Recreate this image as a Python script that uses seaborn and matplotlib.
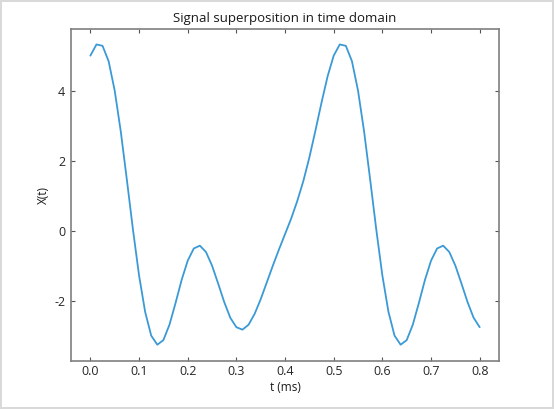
import numpy as np
import pandas as pd
import matplotlib
matplotlib.use("Agg")
import matplotlib.pyplot as plt
import seaborn as sns

t_ms = [round(0.0125 * k, 4) for k in range(65)]
x_vals = [5.00, 5.32, 5.28, 4.84, 4.00, 2.83, 1.45, 0.03, -1.28, -2.32,
          -3.00, -3.26, -3.13, -2.69, -2.07, -1.41, -0.86, -0.51, -0.43, -0.61,
          -1.00, -1.51, -2.04, -2.49, -2.76, -2.83, -2.69, -2.38, -1.96, -1.48,
          -1.00, -0.54, -0.10, 0.34, 0.84, 1.41, 2.09, 2.86, 3.66, 4.41,
          5.00, 5.32, 5.28, 4.84, 4.00, 2.83, 1.45, 0.03, -1.28, -2.32,
          -3.00, -3.26, -3.13, -2.69, -2.07, -1.41, -0.86, -0.51, -0.43, -0.61,
          -1.00, -1.51, -2.04, -2.49, -2.76]
x_ticks = [0.0, 0.1, 0.2, 0.3, 0.4, 0.5, 0.6, 0.7, 0.8]
y_ticks = [-2, 0, 2, 4]

df = pd.DataFrame({"t": t_ms, "x": x_vals})

sns.set_theme(style="white")
plt.rcParams['font.family'] = ['Open Sans', 'DejaVu Sans']

fig = plt.figure(figsize=(5.54, 4.09), dpi=100)
fig.patch.set_edgecolor('#d9d9d9')
fig.patch.set_linewidth(1.5)
ax = fig.add_axes([0.128, 0.117, 0.773, 0.812])

sns.lineplot(data=df, x="t", y="x", color='#3b9ad6', linewidth=1.3, ax=ax)

ax.set_xticks(x_ticks)
ax.set_xticklabels([f"{v:.1f}" for v in x_ticks])
ax.set_yticks(y_ticks)
ax.set_yticklabels([str(v) for v in y_ticks])
ax.set_xlim(-0.04, 0.84)
ax.set_ylim(-3.73, 5.76)

for s in ax.spines.values():
    s.set_color('#7f7f7f')
    s.set_linewidth(1.2)
ax.tick_params(direction='in', length=3, width=0.8, color='#555555',
               labelsize=9, labelcolor='#262626', top=True, right=True,
               bottom=True, left=True)
ax.tick_params(axis='x', pad=3)
ax.tick_params(axis='y', pad=4)

ax.set_title("Signal superposition in time domain", fontsize=9.5, color='#1a1a1a', pad=5)
ax.set_xlabel("t (ms)", fontsize=8.5, color='#1a1a1a', labelpad=2)
ax.set_ylabel("X(t)", fontsize=8.5, color='#1a1a1a', labelpad=3)

fig.savefig("out.png", dpi=100, edgecolor=fig.get_edgecolor())
